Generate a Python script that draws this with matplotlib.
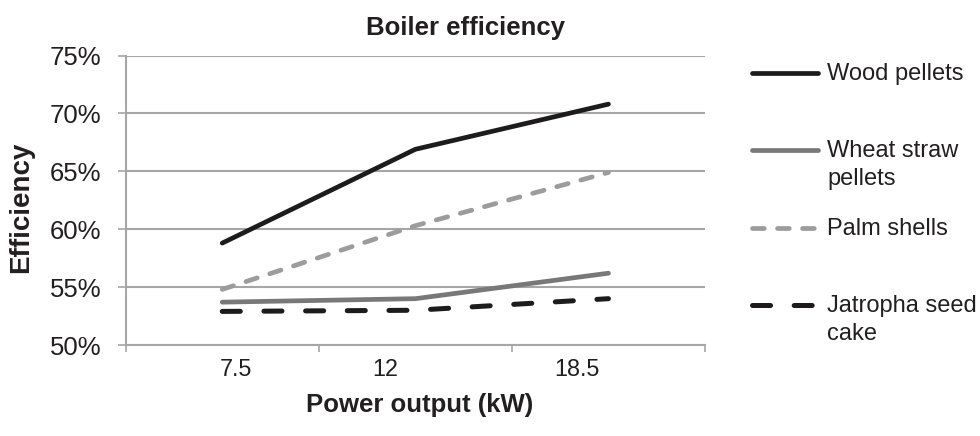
import matplotlib
matplotlib.use("Agg")
import matplotlib.pyplot as plt
from matplotlib.lines import Line2D
from matplotlib.ticker import FixedLocator
from matplotlib.transforms import blended_transform_factory, ScaledTranslation

plt.rcParams['font.family'] = ['Liberation Sans', 'DejaVu Sans']
plt.rcParams['lines.scale_dashes'] = False

categories = ["7.5", "12", "18.5"]
wood_pellets = [58.8, 66.9, 70.8]
wheat_straw = [53.7, 54.0, 56.2]
palm_shells = [54.8, 60.3, 64.9]
jatropha = [52.9, 53.0, 54.0]
yticks = [50, 55, 60, 65, 70, 75]
ytick_labels = ["50%", "55%", "60%", "65%", "70%", "75%"]

W, H = 980, 436
fig = plt.figure(figsize=(W / 100, H / 100), dpi=100)
ax = fig.add_axes([125.7 / W, 1 - 345 / H, (705 - 125.7) / W, (345 - 55.5) / H])

txt = "#231f20"
grid = "#a6a6a6"
x = list(range(len(categories)))

series = [
    ("Wood pellets", wood_pellets, dict(color="#1e1b1c", lw=3.4, ls="-")),
    ("Wheat straw\npellets", wheat_straw, dict(color="#787878", lw=3.4, ls="-")),
    ("Palm shells", palm_shells, dict(color="#9c9c9c", lw=3.4, ls=(0, (8.5, 9.5)))),
    ("Jatropha seed\ncake", jatropha, dict(color="#1e1b1c", lw=3.6, ls=(0, (13, 17)))),
]
for name, vals, st in series:
    ax.plot(x, vals, color=st["color"], lw=st["lw"], linestyle=st["ls"],
            solid_capstyle="round", dash_capstyle="round", zorder=3)

ax.set_xlim(-0.5, len(categories) - 0.5)
ax.set_ylim(50, 75)
ax.set_yticks(yticks)
ax.set_yticklabels(ytick_labels)
ax.set_xticks(x)
ax.set_xticklabels([])
ax.xaxis.set_minor_locator(FixedLocator([-0.5, 0.5, 1.5, 2.5]))
ax.tick_params(axis="x", which="major", length=0)
ax.tick_params(axis="x", which="minor", length=5, width=1.2, color=grid)
ax.tick_params(axis="y", length=5.8, width=1.2, color=grid, pad=11.5, labelsize=18.5, labelcolor=txt)

# category labels (slight per-label shifts as in the reference)
label_shift_px = [14, -30, -32]
base = blended_transform_factory(ax.transData, ax.transAxes)
for xi, lab, dx in zip(x, categories, label_shift_px):
    ax.text(xi, 0, lab, ha="center", va="center", fontsize=16.8, color=txt,
            transform=base + ScaledTranslation(dx / 100, -25 / 100, fig.dpi_scale_trans))

ax.grid(axis="y", color=grid, lw=1.5, zorder=0)
for s in ["top", "right"]:
    ax.spines[s].set_visible(False)
ax.spines["left"].set_color(grid)
ax.spines["left"].set_linewidth(1.5)
ax.spines["bottom"].set_color(grid)
ax.spines["bottom"].set_linewidth(1.5)

fig.text(465 / W, 1 - 28 / H, "Boiler efficiency", ha="center", va="center",
         fontsize=18.5, fontweight="bold", color=txt)
fig.text(420 / W, 1 - 405 / H, "Power output (kW)", ha="center", va="center",
         fontsize=18.5, fontweight="bold", color=txt)
fig.text(21 / W, 1 - 207 / H, "Efficiency", ha="center", va="center", rotation=90,
         fontsize=20, fontweight="bold", color=txt)

# legend
leg_y = [73, 150, 228, 305]
for (name, vals, st), yy in zip(series, leg_y):
    yf = 1 - yy / H
    fig.add_artist(Line2D([752 / W, 818 / W], [yf, yf], transform=fig.transFigure,
                          color=st["color"], lw=st["lw"], linestyle=st["ls"],
                          solid_capstyle="round", dash_capstyle="round"))
    fig.text(827 / W, yf + 10 / H, name, ha="left", va="top", fontsize=17, color=txt,
             linespacing=1.35)

fig.savefig("out.png", dpi=100)
